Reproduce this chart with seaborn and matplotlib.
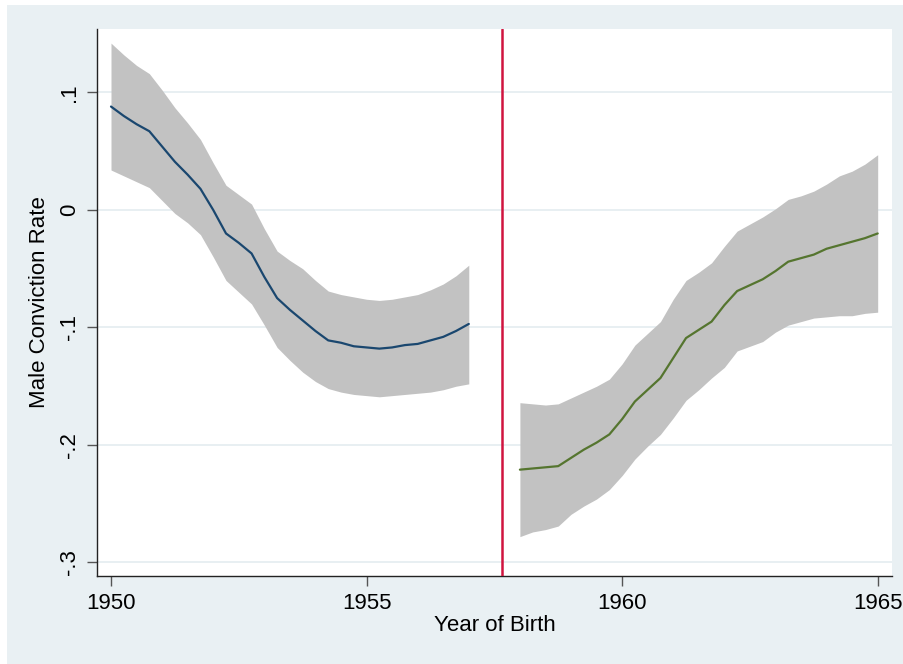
import numpy as np
import pandas as pd
import matplotlib
matplotlib.use("Agg")
import matplotlib.pyplot as plt
from matplotlib.patches import Rectangle
import seaborn as sns

# cohorts born before the cutoff
pre_year = [1950.00, 1950.25, 1950.50, 1950.75, 1951.00, 1951.25, 1951.50, 1951.75,
            1952.00, 1952.25, 1952.50, 1952.75, 1953.00, 1953.25, 1953.50, 1953.75,
            1954.00, 1954.25, 1954.50, 1954.75, 1955.00, 1955.25, 1955.50, 1955.75,
            1956.00, 1956.25, 1956.50, 1956.75, 1957.00]
pre_fit = [0.088, 0.080, 0.073, 0.067, 0.054, 0.041, 0.030, 0.018,
           0.000, -0.020, -0.028, -0.037, -0.057, -0.075, -0.085, -0.094,
           -0.103, -0.111, -0.113, -0.116, -0.117, -0.118, -0.117, -0.115,
           -0.114, -0.111, -0.108, -0.103, -0.097]
pre_lo = [0.034, 0.029, 0.024, 0.019, 0.008, -0.003, -0.011, -0.021,
          -0.040, -0.060, -0.070, -0.080, -0.098, -0.117, -0.128, -0.138,
          -0.146, -0.152, -0.155, -0.157, -0.158, -0.159, -0.158, -0.157,
          -0.156, -0.155, -0.153, -0.150, -0.148]
pre_hi = [0.142, 0.132, 0.123, 0.116, 0.102, 0.087, 0.074, 0.060,
          0.040, 0.021, 0.013, 0.005, -0.016, -0.035, -0.043, -0.050,
          -0.060, -0.069, -0.072, -0.074, -0.076, -0.077, -0.076, -0.074,
          -0.072, -0.068, -0.063, -0.056, -0.047]

# cohorts born after the cutoff
post_year = [1958.00, 1958.25, 1958.50, 1958.75, 1959.00, 1959.25, 1959.50, 1959.75,
             1960.00, 1960.25, 1960.50, 1960.75, 1961.00, 1961.25, 1961.50, 1961.75,
             1962.00, 1962.25, 1962.50, 1962.75, 1963.00, 1963.25, 1963.50, 1963.75,
             1964.00, 1964.25, 1964.50, 1964.75, 1965.00]
post_fit = [-0.221, -0.220, -0.219, -0.218, -0.211, -0.204, -0.198, -0.191,
            -0.178, -0.163, -0.153, -0.143, -0.126, -0.109, -0.102, -0.095,
            -0.081, -0.069, -0.064, -0.059, -0.052, -0.044, -0.041, -0.038,
            -0.033, -0.030, -0.027, -0.024, -0.020]
post_lo = [-0.278, -0.274, -0.272, -0.269, -0.259, -0.252, -0.246, -0.238,
           -0.226, -0.212, -0.201, -0.191, -0.177, -0.162, -0.153, -0.143,
           -0.134, -0.120, -0.116, -0.112, -0.104, -0.098, -0.095, -0.092,
           -0.091, -0.090, -0.090, -0.088, -0.087]
post_hi = [-0.164, -0.165, -0.166, -0.165, -0.160, -0.155, -0.150, -0.144,
           -0.131, -0.115, -0.105, -0.095, -0.076, -0.060, -0.053, -0.045,
           -0.031, -0.018, -0.012, -0.006, 0.001, 0.009, 0.012, 0.016,
           0.022, 0.029, 0.033, 0.039, 0.047]

cutoff = 1957.65
y_ticks = [0.1, 0.0, -0.1, -0.2, -0.3]
y_labels = [".1", "0", "-.1", "-.2", "-.3"]
x_ticks = [1950, 1955, 1960, 1965]

pre = pd.DataFrame({"year": pre_year, "fit": pre_fit, "lo": pre_lo, "hi": pre_hi})
post = pd.DataFrame({"year": post_year, "fit": post_fit, "lo": post_lo, "hi": post_hi})

sns.set_style("ticks")
plt.rcParams["font.family"] = ["Liberation Sans", "DejaVu Sans"]
plt.rcParams["text.color"] = "black"
plt.rcParams["axes.labelcolor"] = "black"
plt.rcParams["xtick.labelcolor"] = "black"
plt.rcParams["ytick.labelcolor"] = "black"

bg = "#e9f0f3"
fig = plt.figure(figsize=(9.04, 6.64), dpi=100, facecolor="white")
fig.patches.append(Rectangle((7 / 904, 0), 1, 1 - 5 / 664, transform=fig.transFigure,
                             facecolor=bg, edgecolor="none", zorder=-10))
ax = fig.add_axes([97 / 904, 1 - 576 / 664, 795 / 904, 547 / 664])
ax.set_facecolor("white")

band = "#c2c2c2"
ax.fill_between(pre["year"], pre["lo"], pre["hi"], color=band, lw=0, zorder=2)
ax.fill_between(post["year"], post["lo"], post["hi"], color=band, lw=0, zorder=2)
sns.lineplot(data=pre, x="year", y="fit", ax=ax, color="#1a476f", lw=1.6, zorder=3)
sns.lineplot(data=post, x="year", y="fit", ax=ax, color="#55752f", lw=1.6, zorder=3)
ax.axvline(cutoff, color="#d0143f", lw=1.8, zorder=4)

ax.set_xlim(1949.726, 1965.28)
ax.set_ylim(-0.3115, 0.154)
ax.set_yticks(y_ticks)
ax.set_yticklabels(y_labels, rotation=90, va="center")
ax.set_xticks(x_ticks)
ax.grid(axis="y", color="#e6eef1", lw=1.3, zorder=0)
ax.set_axisbelow(True)

for s in ["top", "right"]:
    ax.spines[s].set_visible(False)
for s in ["left", "bottom"]:
    ax.spines[s].set_color("#222222")
    ax.spines[s].set_linewidth(1.0)
ax.tick_params(axis="both", length=7, width=1, color="#555555", labelsize=16, pad=5)

ax.set_xlabel("Year of Birth", fontsize=16, labelpad=1)
ax.set_ylabel("Male Conviction Rate", fontsize=16, labelpad=7)

fig.savefig("out.png", dpi=100, facecolor=fig.get_facecolor())
